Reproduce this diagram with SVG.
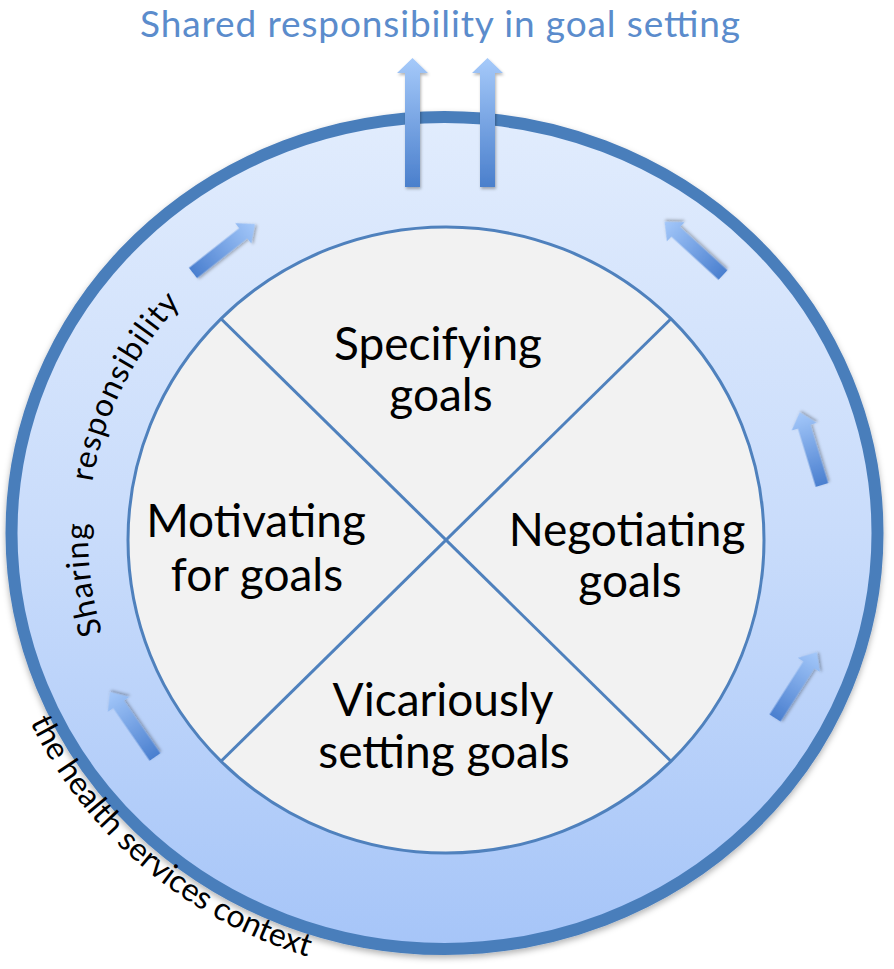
<svg xmlns="http://www.w3.org/2000/svg" width="894" height="969" viewBox="0 0 894 969">
<style>
.lbl{font-family:Lato,"Liberation Sans",sans-serif;font-size:46px;fill:#000;text-anchor:middle}
.ring{font-family:Lato,"Liberation Sans",sans-serif;font-size:32px;fill:#000}
.title{font-family:Lato,"Liberation Sans",sans-serif;font-size:37px;fill:#5b8ccc;text-anchor:middle}
.div{stroke:#4f81bd;stroke-width:3;fill:none}
.sa{fill:url(#gs);filter:url(#sh)}
.va{fill:url(#gv);filter:url(#sh)}
</style>
<defs>
<linearGradient id="gr" x1="0" y1="0" x2="0" y2="1">
<stop offset="0" stop-color="#e1ecfd"/>
<stop offset="0.5" stop-color="#c9dcfb"/>
<stop offset="1" stop-color="#a6c5f8"/>
</linearGradient>
<linearGradient id="gs" x1="0" y1="0" x2="1" y2="0">
<stop offset="0" stop-color="#4a7fcf"/>
<stop offset="1" stop-color="#a4c8fa"/>
</linearGradient>
<linearGradient id="gv" x1="0" y1="1" x2="0" y2="0">
<stop offset="0" stop-color="#4a7fcc"/>
<stop offset="1" stop-color="#a6cafa"/>
</linearGradient>
<filter id="sh" x="-30%" y="-30%" width="160%" height="160%">
<feDropShadow dx="1" dy="2" stdDeviation="1.5" flood-color="#000" flood-opacity="0.3"/>
</filter>
<filter id="rs" x="-10%" y="-10%" width="120%" height="120%">
<feDropShadow dx="0" dy="3" stdDeviation="3" flood-color="#000" flood-opacity="0.3"/>
</filter>
<path id="pSharing" d="M102.4,633.1 A357,346 0 0 1 88.5,517.9"/>
<path id="pResp" d="M92.4,481.9 A357,346 0 0 1 190,294"/>
<path id="pContext" d="M30,722 A458,441 0 0 0 312,958"/>
</defs>

<text class="title" x="440" y="37" textLength="600">Shared responsibility in goal setting</text>

<g id="outer-ring">
<ellipse cx="444.5" cy="533" rx="433" ry="416" fill="url(#gr)" stroke="#4a7ebb" stroke-width="12" filter="url(#rs)"/>
</g>

<g id="inner-circle">
<ellipse cx="446" cy="540" rx="318" ry="313" fill="#f2f2f2" stroke="#4f81bd" stroke-width="3"/>
<line class="div" x1="221" y1="318.7" x2="671" y2="761.3"/>
<line class="div" x1="671" y1="318.7" x2="221" y2="761.3"/>
</g>

<g id="node-specifying">
<text class="lbl" x="438" y="360">Specifying</text>
<text class="lbl" x="441" y="411">goals</text>
</g>
<g id="node-motivating">
<text class="lbl" x="256" y="537">Motivating</text>
<text class="lbl" x="257" y="591">for goals</text>
</g>
<g id="node-negotiating">
<text class="lbl" x="627" y="546">Negotiating</text>
<text class="lbl" x="630" y="597">goals</text>
</g>
<g id="node-vicariously">
<text class="lbl" x="443" y="716">Vicariously</text>
<text class="lbl" x="444" y="768">setting goals</text>
</g>

<g id="ring-labels">
<text class="ring"><textPath href="#pSharing" textLength="111" lengthAdjust="spacing">Sharing</textPath></text>
<text class="ring"><textPath href="#pResp" textLength="202" lengthAdjust="spacing">responsibility</textPath></text>
<text class="ring"><textPath href="#pContext" textLength="374" lengthAdjust="spacing">the health services context</textPath></text>
</g>

<g id="connectors">
<path class="va" d="M405,187 V73 H397 L412.5,58 L428,73 H420 V187 Z"/>
<path class="va" d="M480,187 V73 H472 L487.5,58 L503,73 H495 V187 Z"/>
<path class="sa" transform="translate(193,273) rotate(-38.3)" d="M0,-6.5 H64 V-13 L79,0 L64,13 V6.5 H0 Z"/>
<path class="sa" transform="translate(723,275) rotate(-137.6)" d="M0,-6.5 H64 V-13 L79,0 L64,13 V6.5 H0 Z"/>
<path class="sa" transform="translate(822,485) rotate(-107)" d="M0,-6.5 H61 V-13 L76,0 L61,13 V6.5 H0 Z"/>
<path class="sa" transform="translate(775,718) rotate(-57.5)" d="M0,-6.5 H63 V-13 L78,0 L63,13 V6.5 H0 Z"/>
<path class="sa" transform="translate(155,757) rotate(-124.7)" d="M0,-6.5 H64 V-13 L79,0 L64,13 V6.5 H0 Z"/>
</g>
</svg>
